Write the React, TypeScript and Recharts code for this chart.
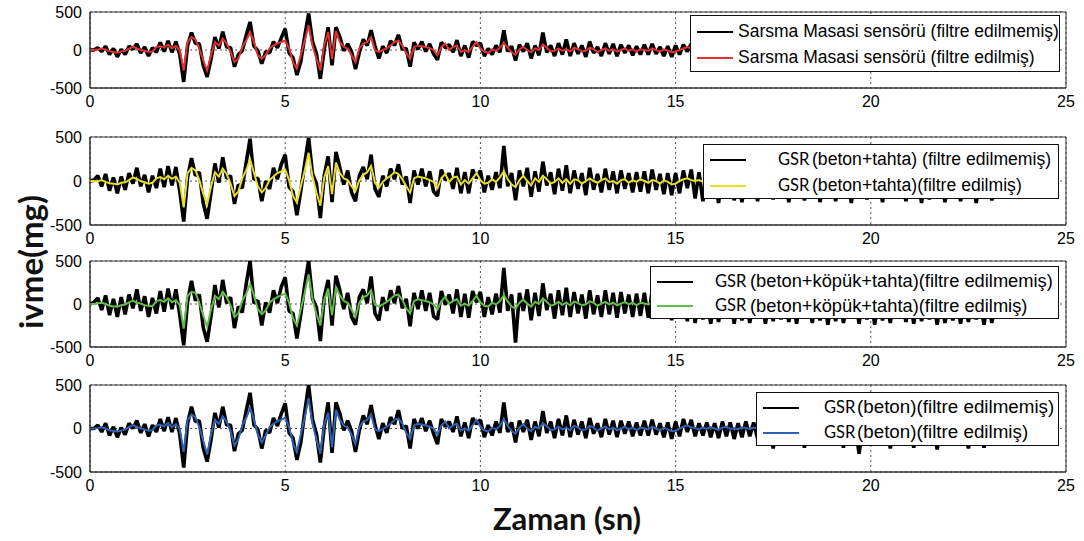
import React from "react";
import {
  LineChart,
  Line,
  XAxis,
  YAxis,
  CartesianGrid,
  Legend,
  ReferenceArea,
} from "recharts";

// sampling step of the recordings (s)
const SAMPLE_STEP = 0.1;

const xTicks = [0, 5, 10, 15, 20, 25];
const yTicks = [-500, 0, 500];

// Sarsma masasi sensörü
const sarsmaRaw = [
  0, 0, 30, -20, 50, -60, 20, -90, 10, -60,
  50, 10, 80, -40, 40, -80, 30, -30, 100, -20,
  120, -30, 110, -60, -420, 60, 230, 90, 80, -200,
  -355, -120, 170, 20, 240, 40, 30, -220, -60, -10,
  190, 370, 50, -10, -180, -20, -40, 110, 30, 160,
  280, -40, -100, -330, -150, 180, 480, 110, -50, -380,
  10, 300, -200, 300, 170, -10, 80, -20, -250, -30,
  140, 60, 260, 50, -110, 50, -40, 120, 60, 200,
  10, 20, -220, 100, 10, 110, -20, 80, -50, -130,
  100, 30, 70, -30, 130, -80, 60, -100, 110, 60,
  90, -80, 20, -60, 60, -30, 260, -20, 50, -140,
  70, -20, 90, -110, 60, -70, 230, -30, 60, -80,
  90, -60, 140, -80, 90, -50, 60, -90, 110, -40,
  40, -80, 90, -50, 80, -80, 70, -40, 60, -70,
  50, -60, 70, -60, 80, -50, 40, -80, 50, -90,
  60, -60, 70, -20, 80, -50, 60, -40, 50, -60, 40,
];
const sarsmaFilt = [
  0, 0, 5, 20, 5, -15, -25, -35, -20, -10,
  15, 45, 20, 0, -10, -25, -20, 40, 50, 30,
  70, 20, 55, -10, -270, 105, 170, 140, 20, -135,
  -270, -70, 105, 60, 150, 85, -25, -160, -115, 40,
  125, 235, 105, -70, -115, -70, 20, 60, 85, 105,
  125, 20, -160, -245, -70, 125, 325, 60, -115, -270,
  60, 235, -115, 250, 105, 40, 20, -70, -160, 20,
  85, 105, 170, -5, -25, 0, 20, 60, 105, 125,
  60, -45, -115, 40, 60, 50, 40, 25, 0, -70,
  40, 85, 0, 40, 60, -25, 0, -25, 40, 105,
  20, -20, -40, 10, -10, 30, 90, 30, -30, -60,
  10, 40, 0, -30, 20, 0, 70, 30, -20, -10,
  20, -10, 10, -20, 30, 10, -20, -10, 30, 10,
  -30, 0, 20, -10, 10, -20, 0, 20, -10, 10,
  -20, 10, 0, -10, 20, 0, -20, 10, -10, -30,
  -20, 0, 20, 40, 20, 10,
];

// GSR (beton+tahta)
const betonTahtaRaw = [
  0, 10, 60, -60, 80, -110, 40, -140, 50, -100,
  90, -30, 150, -60, 70, -130, 60, -80, 140, -70,
  170, -50, 160, -120, -460, 40, 260, 60, 100, -250,
  -430, -130, 200, -20, 270, 30, 60, -260, -40, -80,
  210, 480, 20, 30, -230, 0, -90, 150, 20, 190,
  300, -70, -120, -390, -110, 200, 490, 80, -30, -420,
  60, 280, -240, 330, 150, -40, 120, -130, -230, 60,
  160, 20, 300, -90, -180, 60, -60, 140, 20, 190,
  -40, 50, -250, 120, -40, 140, -60, 110, -120, -170,
  130, 10, 90, -90, 150, -140, 100, -140, 130, 30,
  120, -130, 60, -100, 100, -80, 400, -60, 90, -220,
  120, -60, 150, -180, 110, -120, 220, -50, 100, -150,
  140, -110, 180, -140, 120, -90, 90, -160, 150, -100,
  80, -130, 140, -100, 110, -140, 120, -90, 90, -130,
  100, -120, 110, -140, 130, -100, 80, -150, 90, -160,
  90, -140, 120, -80, 130, -200, 100, -230, 60, -180,
  80, -250, 60, -160, 90, -220, 50, -240, 70, -150,
  60, -230, 80, -170, 40, -210, 90, -140, 60, -240,
  50, -180, 70, -220, 40, -150, 80, -240, 60, -200,
  40, -230, 70, -160, 50, -250, 60, -190, 80, -210,
  50, -170, 60, -240, 40, -200, 70, -150, 50, -230,
  60, -180, 40, -250, 70, -210, 50, -160, 60, -240,
  40, -190, 70, -230, 50, -170, 60, -250, 40, -200,
  50, -220, 30, 0,
];
const betonTahtaFilt = [
  0, 0, -5, 10, -10, -25, -30, -40, -20, -15,
  10, 40, 25, 0, -15, -30, -20, 30, 45, 20,
  60, 25, 50, -20, -300, 90, 150, 120, 10, -140,
  -265, -60, 100, 50, 140, 80, -30, -170, -120, 30,
  120, 245, 90, -60, -130, -80, 10, 50, 90, 110,
  130, 10, -170, -245, -60, 120, 320, 50, -130, -280,
  40, 170, -150, 210, 90, 30, 10, -60, -115, 10,
  70, 100, 170, -20, -75, -10, 30, 60, 100, 80,
  20, -60, -130, 30, 50, 40, 30, 10, -10, -80,
  30, 80, -10, 40, 50, -40, 10, -30, 30, 90,
  10, -30, -20, 20, -10, 40, 110, 20, -40, -70,
  10, 60, 0, -50, 30, -10, 60, 20, -30, -10,
  30, -20, 20, -30, 20, 10, -30, 0, 30, 0,
  -20, 10, 30, -10, 0, -30, 10, 20, -20, 10,
  -10, 20, 0, -20, 10, 0, -30, 10, -10, -40,
  -30, 0, 20, 30, 10, 0, 10, -10, 20, 0, 0,
];

// GSR (beton+köpük+tahta)
const betonKopukRaw = [
  0, 20, 70, -70, 100, -130, 60, -150, 80, -120,
  110, -50, 170, -80, 90, -150, 70, -110, 150, -90,
  180, -60, 170, -130, -480, 30, 270, 40, 110, -270,
  -440, -140, 220, -40, 280, 10, 80, -280, -30, -100,
  230, 500, 10, 40, -250, 20, -100, 160, 10, 200,
  310, -80, -110, -400, -120, 220, 500, 60, -40, -430,
  80, 280, -250, 330, 160, -60, 130, -150, -240, 80,
  170, 10, 320, -110, -190, 80, -80, 160, 10, 210,
  -50, 60, -260, 130, -60, 160, -80, 130, -140, -180,
  150, -10, 110, -110, 170, -150, 120, -160, 150, 20,
  140, -150, 80, -120, 120, -100, 420, -80, 110, -450,
  130, -80, 170, -190, 130, -140, 240, -70, 120, -170,
  160, -130, 190, -150, 140, -110, 110, -170, 160, -120,
  100, -150, 160, -120, 130, -160, 140, -110, 110, -150,
  120, -140, 130, -160, 150, -120, 100, -170, 110, -190,
  110, -160, 140, -200, 150, -220, 120, -180, 80, -230,
  90, -210, 70, -170, 100, -230, 60, -190, 80, -220,
  70, -160, 90, -230, 50, -200, 100, -180, 70, -210,
  60, -230, 80, -170, 50, -220, 90, -190, 70, -240,
  50, -200, 80, -220, 60, -170, 70, -230, 90, -180,
  60, -240, 70, -190, 50, -220, 80, -170, 60, -210,
  70, -230, 50, -200, 80, -180, 60, -240, 70, -220,
  50, -190, 80, -230, 60, -210, 70, -180, 50, -240,
  60, -220, 40, 0,
];
const betonKopukFilt = [
  0, 0, 10, 15, 0, -20, -30, -30, -15, -5,
  20, 40, 15, 5, -15, -20, -25, 35, 45, 25,
  65, 20, 45, -15, -285, 95, 140, 130, 15, -130,
  -265, -65, 95, 55, 140, 80, -20, -150, -110, 35,
  120, 235, 100, -60, -120, -75, 15, 55, 80, 100,
  120, 15, -165, -250, -65, 130, 345, 55, -120, -250,
  50, 180, -130, 195, 100, 35, 15, -65, -150, 15,
  80, 100, 160, -10, -30, -5, 25, 60, 100, 110,
  50, -50, -110, 35, 55, 45, 35, 20, -5, -65,
  35, 80, 5, 35, 55, -20, 5, -20, 35, 95,
  20, -20, -30, 15, -5, 35, 100, 30, -30, -55,
  15, 50, 5, -30, 25, 0, 65, 25, -20, -5,
  25, -10, 15, -15, 30, 10, -15, -5, 30, 15,
  -20, 5, 25, -5, 15, -15, 5, 25, -5, 15,
  -15, 15, 5, -5, 20, 0, -15, 10, -5, -25,
  -15, 5, 20, 35, 20, 10, 5, -5, 10, 0, 0,
];

// GSR (beton)
const betonRaw = [
  0, 0, 40, -40, 60, -80, 20, -100, 10, -70,
  60, 0, 90, -50, 50, -90, 40, -40, 110, -30,
  130, -40, 120, -70, -450, 60, 250, 80, 90, -220,
  -380, -130, 180, 10, 250, 40, 40, -260, -60, -20,
  200, 410, 40, -10, -230, -20, -50, 120, 30, 170,
  290, -50, -110, -360, -160, 190, 500, 100, -60, -390,
  20, 300, -280, 300, 170, -20, 90, -30, -270, -20,
  150, 50, 270, 40, -120, 60, -50, 130, 50, 210,
  0, 30, -230, 110, 0, 120, -30, 90, -60, -180,
  110, 20, 80, -40, 140, -90, 70, -110, 120, 50,
  100, -100, 40, -80, 80, -50, 300, -40, 70, -160,
  90, -40, 100, -130, 80, -90, 200, -50, 80, -110,
  110, -80, 150, -100, 100, -70, 80, -110, 120, -60,
  60, -100, 110, -70, 90, -100, 90, -60, 80, -90,
  70, -80, 90, -80, 100, -70, 60, -100, 70, -120,
  80, -90, 110, -40, 100, -90, 60, -80, 70, -100,
  60, -110, 80, -90, 70, -120, 60, -100, 80, -90,
  70, -120, 60, -140, 50, -230, 60, -130, 70, -150,
  50, -120, 60, -220, 70, -140, 50, -130, 60, -150,
  60, -130, 50, -220, 70, -140, 40, -290, 60, -140,
  50, -150, 60, -120, 40, -230, 70, -140, 50, -130,
  60, -220, 40, -140, 60, -130, 50, -240, 70, -140,
  40, -150, 60, -120, 50, -230, 60, -140, 50, -220,
  40, -100, 20, 0,
];
const betonFilt = [
  0, 0, 5, 15, 0, -20, -30, -35, -25, -10,
  15, 40, 20, 0, -10, -25, -20, 35, 45, 25,
  65, 15, 50, -15, -270, 100, 160, 130, 15, -140,
  -300, -70, 100, 55, 140, 80, -30, -195, -120, 35,
  120, 235, 100, -70, -160, -80, 15, 55, 85, 100,
  125, 15, -170, -270, -70, 130, 350, 55, -120, -290,
  50, 180, -215, 215, 100, 35, 10, -70, -175, 15,
  80, 100, 160, -10, -30, -5, 20, 55, 100, 115,
  55, -50, -120, 35, 55, 45, 35, 20, 0, -70,
  35, 80, 0, 35, 55, -25, 0, -25, 35, 100,
  20, -20, -35, 10, -10, 30, 110, 30, -30, -60,
  10, 50, 0, -30, 20, 0, 60, 25, -20, -10,
  20, -10, 10, -20, 30, 10, -20, -10, 30, 10,
  -25, 0, 20, -10, 10, -20, 0, 20, -10, 10,
  -20, 10, 0, -10, 20, 0, -20, 10, -10, -30,
  -25, 0, 20, 35, 15, 5, -10, 10, -5, 15,
  0, -15, 10, 20, -5, 5, -10, 15, 5, -5,
  10, 0, -10, 5, 0, 0,
];

const AXIS_FONT = "'Liberation Sans', Arial, sans-serif";

function buildRows(raw: number[], filt: number[]) {
  const n = Math.max(raw.length, filt.length);
  return Array.from({ length: n }, (_, i) => ({
    t: Math.round(i * SAMPLE_STEP * 10) / 10,
    raw: raw[i],
    filt: filt[i],
  }));
}

interface PanelProps {
  plotTop: number;
  plotHeight: number;
  raw: number[];
  filt: number[];
  color: string;
  gsr: boolean;
  labels: [string, string];
  box: { left: number; top: number; width: number; height: number };
  textX: number; // label start inside the box
  gsrX: number;
  fontSize: number;
}

function Panel({ plotTop, plotHeight, raw, filt, color, gsr, labels, box, textX, gsrX, fontSize }: PanelProps) {
  const rows = buildRows(raw, filt);
  const marginTop = 10;
  const axisH = 28;
  const chartTop = plotTop - marginTop;

  const renderLegend = () => (
    <div
      style={{
        position: "relative",
        width: box.width,
        height: box.height,
        background: "#fff",
        border: "1px solid #111",
        boxSizing: "border-box",
      }}
    >
      {labels.map((lab, i) => (
        <div
          key={lab}
          style={{
            position: "absolute",
            left: 0,
            top: i === 0 ? box.height * 0.28 : box.height * 0.74,
            width: "100%",
            height: 0,
          }}
        >
          <div
            style={{
              position: "absolute",
              left: 6,
              top: -1,
              width: 36,
              height: 2,
              background: i === 0 ? "#000" : color,
            }}
          />
          {gsr && (
            <span
              style={{
                position: "absolute",
                left: gsrX,
                top: -11,
                fontFamily: "Lato, sans-serif",
                fontSize: 16.5,
                whiteSpace: "nowrap",
              }}
            >
              GSR
            </span>
          )}
          <span
            style={{
              position: "absolute",
              left: textX,
              top: -fontSize * 0.62,
              fontFamily: AXIS_FONT,
              fontSize,
              whiteSpace: "nowrap",
            }}
          >
            {lab}
          </span>
        </div>
      ))}
    </div>
  );

  return (
    <div style={{ position: "absolute", left: 0, top: chartTop }}>
      <LineChart
        width={1084}
        height={plotHeight + marginTop + axisH}
        data={rows}
        margin={{ top: marginTop, right: 18, bottom: 0, left: 0 }}
      >
        <CartesianGrid stroke="#555" strokeDasharray="2 3" />
        <XAxis
          type="number"
          dataKey="t"
          domain={[0, 25]}
          ticks={xTicks}
          interval={0}
          height={axisH}
          tickLine={false}
          axisLine={{ stroke: "#333" }}
          tick={{ fill: "#000", fontSize: 16, fontFamily: AXIS_FONT }}
          allowDataOverflow
        />
        <YAxis
          domain={[-500, 500]}
          ticks={yTicks}
          interval={0}
          width={90}
          tickLine={false}
          axisLine={{ stroke: "#333" }}
          tick={{ fill: "#000", fontSize: 16, fontFamily: AXIS_FONT }}
          allowDataOverflow
        />
        <ReferenceArea x1={0} x2={25} y1={-500} y2={500} fill="#fff" fillOpacity={0} stroke="#333" />
        <Line
          type="linear"
          dataKey="raw"
          stroke="#000"
          strokeWidth={3.6}
          strokeLinejoin="bevel"
          dot={false}
          isAnimationActive={false}
          name={labels[0]}
        />
        <Line
          type="linear"
          dataKey="filt"
          stroke={color}
          strokeWidth={2}
          dot={false}
          isAnimationActive={false}
          name={labels[1]}
        />
        <Legend
          layout="horizontal"
          verticalAlign="middle"
          align="center"
          content={renderLegend}
          wrapperStyle={{ left: box.left, top: box.top - chartTop, width: box.width, height: box.height }}
        />
      </LineChart>
    </div>
  );
}

export default function App() {
  return (
    <div
      style={{
        position: "absolute",
        left: 0,
        top: 0,
        width: 1084,
        height: 541,
        background: "#fff",
        overflow: "hidden",
        fontFamily: AXIS_FONT,
      }}
    >
      <Panel
        plotTop={12}
        plotHeight={76}
        raw={sarsmaRaw}
        filt={sarsmaFilt}
        color="#e2312f"
        gsr={false}
        labels={["Sarsma Masasi sensörü (filtre edilmemiş)", "Sarsma Masasi sensörü (filtre edilmiş)"]}
        box={{ left: 690, top: 15, width: 370, height: 57 }}
        textX={47}
        gsrX={0}
        fontSize={17.5}
      />
      <Panel
        plotTop={137}
        plotHeight={88}
        raw={betonTahtaRaw}
        filt={betonTahtaFilt}
        color="#e9df26"
        gsr
        labels={["(beton+tahta) (filtre edilmemiş)", "(beton+tahta)(filtre edilmiş)"]}
        box={{ left: 703, top: 144, width: 356, height: 55 }}
        textX={108}
        gsrX={74}
        fontSize={17.6}
      />
      <Panel
        plotTop={261}
        plotHeight={86}
        raw={betonKopukRaw}
        filt={betonKopukFilt}
        color="#62bd4a"
        gsr
        labels={["(beton+köpük+tahta)(filtre edilmemiş)", "(beton+köpük+tahta)(filtre edilmiş)"]}
        box={{ left: 650, top: 266, width: 409, height: 53 }}
        textX={99}
        gsrX={64}
        fontSize={18.3}
      />
      <Panel
        plotTop={385}
        plotHeight={87}
        raw={betonRaw}
        filt={betonFilt}
        color="#2f62b3"
        gsr
        labels={["(beton)(filtre edilmemiş)", "(beton)(filtre edilmiş)"]}
        box={{ left: 756, top: 392, width: 303, height: 54 }}
        textX={100}
        gsrX={67}
        fontSize={18.8}
      />
      <div
        style={{
          position: "absolute",
          left: 30,
          top: 262,
          transform: "translate(-50%, -50%) rotate(-90deg)",
          fontFamily: "Lato, sans-serif",
          fontWeight: 700,
          fontSize: 33,
          whiteSpace: "nowrap",
          color: "#111",
        }}
      >
        ivme(mg)
      </div>
      <div
        style={{
          position: "absolute",
          left: 567,
          top: 518,
          transform: "translate(-50%, -50%)",
          fontFamily: "Lato, sans-serif",
          fontWeight: 700,
          fontSize: 31,
          whiteSpace: "nowrap",
          color: "#111",
        }}
      >
        Zaman (sn)
      </div>
    </div>
  );
}
